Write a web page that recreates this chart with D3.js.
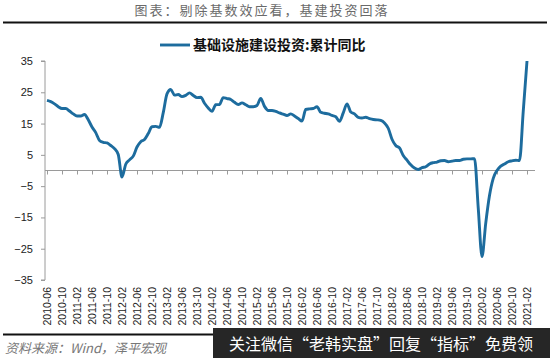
<!DOCTYPE html>
<html>
<head>
<meta charset="utf-8">
<script src="https://cdn.jsdelivr.net/npm/d3@7"></script>
<style>
  body { margin: 0; background: #fff; }
  svg { display: block; }
</style>
</head>
<body>
<svg id="chart" width="550" height="358"></svg>
<script>
// monthly, 2010-06 .. 2021-02
const startMonth = "2010-06";
const values = [
  22.4, 22.0, 21.3, 20.4, 19.8, 19.8, 19.0, 18.1, 17.4, 17.4, 17.9, 16.2,
  13.9, 12.1, 9.6, 9.0, 8.8, 8.0, 7.0, 5.1, -2.1, 2.0, 3.4, 4.6,
  7.5, 9.2, 9.9, 11.8, 14.0, 14.1, 13.8, 18.5, 24.5, 25.9, 24.1, 24.3,
  23.6, 24.0, 24.8, 24.0, 23.3, 23.4, 21.5, 20.0, 18.9, 21.0, 21.1, 23.3,
  23.0, 22.7, 21.8, 21.1, 21.6, 21.0, 20.4, 20.4, 20.8, 23.0, 20.5, 19.2,
  19.2, 18.9, 18.4, 18.0, 17.6, 18.1, 17.4, 16.6, 15.8, 19.5, 19.7, 19.8,
  20.4, 18.6, 18.3, 18.1, 17.6, 17.2, 15.7, 18.4, 21.3, 18.7, 18.1, 17.0,
  16.8, 17.0, 16.6, 16.3, 16.2, 16.0, 15.2, 13.5, 10.0, 8.0, 7.2, 4.8,
  3.3, 1.8, 0.8, 0.3, 0.9, 1.2, 2.1, 2.5, 2.7, 3.1, 3.2, 2.8,
  3.0, 3.2, 3.2, 3.6, 3.7, 3.7, 3.8, -12.0, -27.5, -16.8, -8.0, -2.5,
  0.0, 1.4, 2.1, 2.8, 3.1, 3.3, 3.2, 19.0, 35.0
];
const yTicks = [35, 25, 15, 5, -5, -15, -25, -35];
const seriesName = "基础设施建设投资:累计同比";
const titleText = "图表：剔除基数效应看，基建投资回落";
const sourceText = "资料来源：Wind，泽平宏观";
const watermarkText = "关注微信“老韩实盘”回复“指标”免费领";

// build month labels
const months = values.map((v, i) => {
  const [y0, m0] = startMonth.split("-").map(Number);
  const t = (m0 - 1) + i;
  const yy = y0 + Math.floor(t / 12);
  const mm = (t % 12) + 1;
  return `${yy}-${String(mm).padStart(2, "0")}`;
});
const data = months.map((m, i) => ({ month: m, value: values[i] }));
const tickMonths = months.filter((m, i) => i % 4 === 0);

const svg = d3.select("#chart");
const cjk = "'Noto Sans CJK SC', sans-serif";

// title
svg.append("text")
  .attr("x", 262).attr("y", 15)
  .attr("text-anchor", "middle")
  .attr("font-family", cjk)
  .attr("font-size", 13)
  .attr("letter-spacing", 2)
  .attr("fill", "#6a6a6a")
  .text(titleText);
svg.append("line")
  .attr("x1", 3).attr("x2", 547).attr("y1", 22.5).attr("y2", 22.5)
  .attr("stroke", "#111").attr("stroke-width", 2);

const x = d3.scalePoint().domain(months).range([47, 527]);
const y = d3.scaleLinear().domain([-35, 35]).range([280, 61]);

// y axis
const yAxis = svg.append("g")
  .attr("transform", "translate(45,0)")
  .call(d3.axisLeft(y).tickValues(yTicks).tickSize(4).tickPadding(8).tickFormat(d3.format("d")));
yAxis.select(".domain").attr("stroke", "#9a9a9a").attr("d", `M-4,${y(35)}H0V${y(-35)}H-4`);
yAxis.selectAll(".tick line").attr("stroke", "#9a9a9a");
yAxis.selectAll(".tick text")
  .attr("font-family", "'Liberation Sans', Arial, sans-serif")
  .attr("font-size", 11).attr("fill", "#222");

// zero line with ticks
const xAxis = svg.append("g")
  .attr("transform", `translate(0,${y(0)})`)
  .call(d3.axisBottom(x).tickValues(tickMonths).tickSize(4).tickFormat(""));
xAxis.select(".domain").attr("stroke", "#9a9a9a").attr("d", `M45,0H535`);
xAxis.selectAll(".tick line").attr("stroke", "#9a9a9a");

// x labels at bottom
svg.append("g").selectAll("text")
  .data(tickMonths)
  .join("text")
  .attr("transform", d => `translate(${x(d) + 4},287) rotate(-90)`)
  .attr("text-anchor", "end")
  .attr("font-family", "'Liberation Sans', Arial, sans-serif")
  .attr("font-size", 10.5)
  .attr("fill", "#222")
  .text(d => d);

// line
const line = d3.line()
  .x(d => x(d.month))
  .y(d => y(d.value))
  .curve(d3.curveMonotoneX);
svg.append("path")
  .datum(data)
  .attr("d", line)
  .attr("fill", "none")
  .attr("stroke", "#1d6c9e")
  .attr("stroke-width", 2.9)
  .attr("stroke-linejoin", "round");

// legend
svg.append("line")
  .attr("x1", 160).attr("x2", 190).attr("y1", 45).attr("y2", 45)
  .attr("stroke", "#1d6c9e").attr("stroke-width", 2.9);
svg.append("text")
  .attr("x", 193).attr("y", 50)
  .attr("font-family", cjk)
  .attr("font-size", 14)
  .attr("font-weight", "bold")
  .attr("fill", "#111")
  .text(seriesName);

// footer
svg.append("line")
  .attr("x1", 3).attr("x2", 547).attr("y1", 334.5).attr("y2", 334.5)
  .attr("stroke", "#111").attr("stroke-width", 2);
svg.append("text")
  .attr("x", 5).attr("y", 353)
  .attr("font-family", cjk)
  .attr("font-size", 13)
  .attr("font-style", "italic")
  .attr("fill", "#777")
  .text(sourceText);

// watermark box
svg.append("rect")
  .attr("x", 213).attr("y", 328).attr("width", 337).attr("height", 30)
  .attr("fill", "#262626");
svg.append("text")
  .attr("x", 381).attr("y", 350)
  .attr("text-anchor", "middle")
  .attr("font-family", cjk)
  .attr("font-size", 16)
  .attr("fill", "#fff")
  .text(watermarkText);
</script>
</body>
</html>
